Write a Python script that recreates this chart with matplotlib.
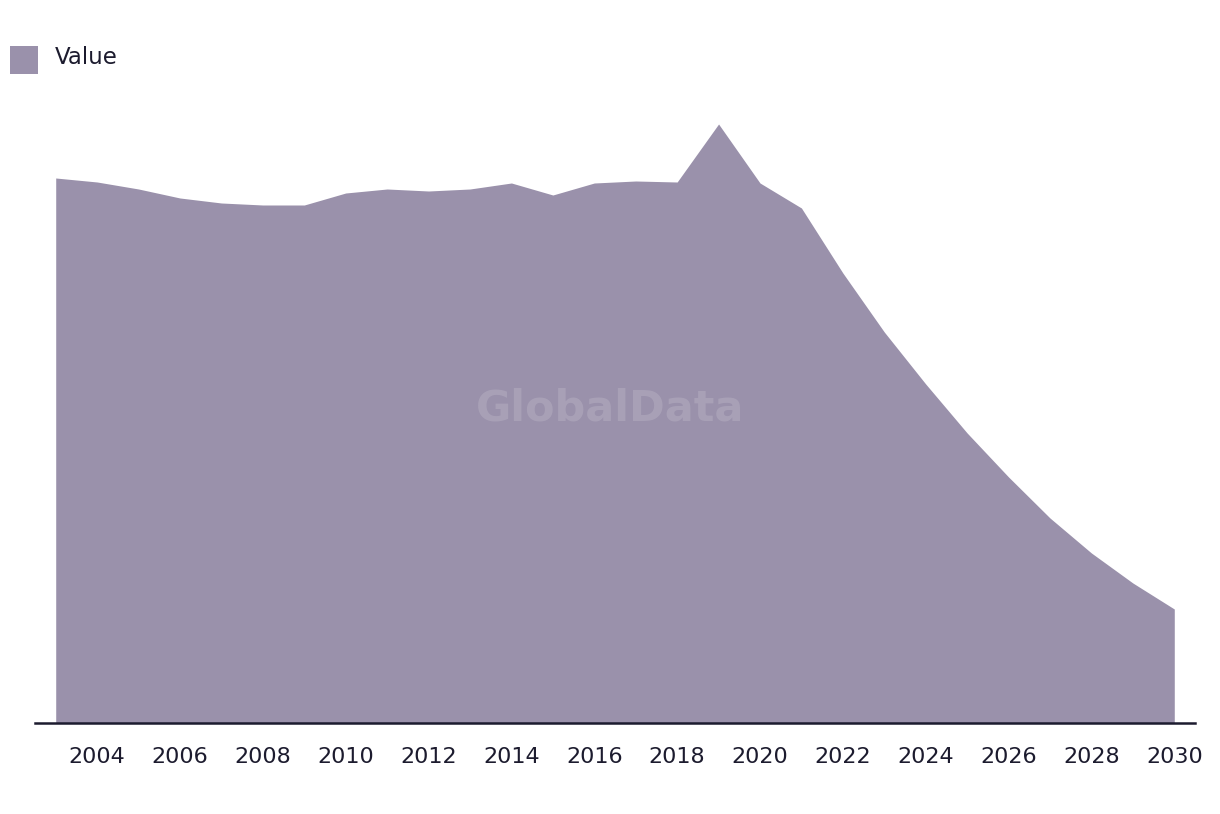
import numpy as np
import matplotlib.pyplot as plt
from matplotlib.patches import Rectangle

years = list(range(2003, 2031))
values = [545, 541, 534, 525, 520, 518, 518, 530, 534, 532, 534, 540, 528, 540,
          542, 541, 599, 540, 515, 450, 391, 339, 290, 246, 205, 170, 140, 114]
tick_years = list(range(2004, 2031, 2))

fill_color = "#9a91ab"
text_color = "#1c1b2e"

plt.rcParams['font.family'] = ['DejaVu Sans']

fig = plt.figure(figsize=(12.2, 8.14), dpi=100)
ax = fig.add_axes([35 / 1220, 91 / 814, 1160 / 1220, 623 / 814])

ax.fill_between(years, values, 0, color=fill_color, linewidth=0)
ax.set_xlim(2002.5, 2030.5)
ax.set_ylim(0, 623)

ax.set_xticks(tick_years)
ax.set_xticklabels([str(y) for y in tick_years])
ax.tick_params(axis='x', length=0, pad=17, labelsize=16, labelcolor=text_color)
ax.set_yticks([])
for s in ['top', 'right', 'left']:
    ax.spines[s].set_visible(False)
ax.spines['bottom'].set_color(text_color)
ax.spines['bottom'].set_linewidth(1.8)

# watermark
ax.text(0.496, 0.505, "GlobalData", transform=ax.transAxes, ha='center', va='center',
        fontsize=31, fontweight='bold', color='white', alpha=0.14)

# legend
fig.patches.append(Rectangle((10 / 1220, 1 - 74 / 814), 28 / 1220, 28 / 814,
                             transform=fig.transFigure, color=fill_color, linewidth=0))
fig.text(55 / 1220, 1 - 58 / 814, "Value", ha='left', va='center', fontsize=16.5,
         color=text_color)

fig.savefig("out.png", dpi=100, facecolor='white')
